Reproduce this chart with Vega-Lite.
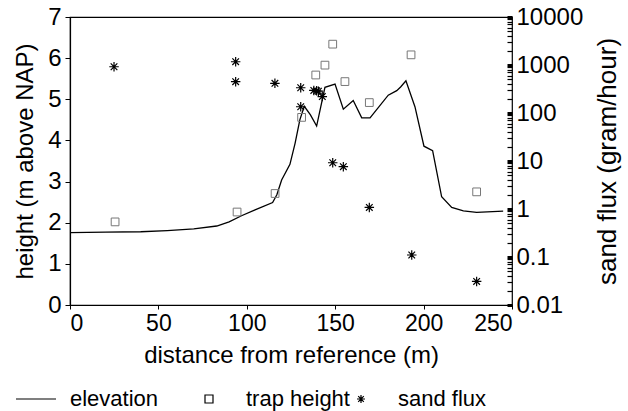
{
  "$schema": "https://vega.github.io/schema/vega-lite/v6.json",
  "width": 442,
  "height": 288,
  "autosize": "none",
  "padding": {"left": 70, "top": 17, "right": 116, "bottom": 106},
  "background": "white",
  "config": {
    "font": "Liberation Sans",
    "view": {"stroke": "black", "strokeWidth": 1.2},
    "axis": {
      "domainColor": "black", "domainWidth": 1.2, "tickColor": "black", "labelColor": "black", "titleColor": "black",
      "grid": false, "labelFontSize": 23, "titleFontSize": 24, "titleFontWeight": "normal",
      "labelFont": "Liberation Sans", "titleFont": "Liberation Sans"
    }
  },
  "datasets": {
    "elevation": [
      {"d": 0, "h": 1.76}, {"d": 20, "h": 1.77}, {"d": 40, "h": 1.78}, {"d": 55, "h": 1.81},
      {"d": 70, "h": 1.85}, {"d": 83, "h": 1.92}, {"d": 90, "h": 2.02}, {"d": 97, "h": 2.17},
      {"d": 105, "h": 2.32}, {"d": 114.6, "h": 2.49}, {"d": 117, "h": 2.68}, {"d": 119.7, "h": 3.04},
      {"d": 124.4, "h": 3.42}, {"d": 127.3, "h": 3.93}, {"d": 130, "h": 4.5}, {"d": 132.5, "h": 4.83},
      {"d": 136, "h": 4.62}, {"d": 139.5, "h": 4.35}, {"d": 144.2, "h": 5.29}, {"d": 149.9, "h": 5.37},
      {"d": 154.6, "h": 4.76}, {"d": 160.2, "h": 4.97}, {"d": 165, "h": 4.55}, {"d": 169.7, "h": 4.55},
      {"d": 180, "h": 5.1}, {"d": 184.8, "h": 5.21}, {"d": 187, "h": 5.3}, {"d": 190, "h": 5.45},
      {"d": 195.1, "h": 4.82}, {"d": 200.2, "h": 3.86}, {"d": 205.1, "h": 3.75}, {"d": 210.2, "h": 2.63},
      {"d": 215.9, "h": 2.37}, {"d": 222.5, "h": 2.29}, {"d": 230, "h": 2.25}, {"d": 245, "h": 2.28}
    ],
    "traps": [
      {"d": 25.5, "h": 2.02, "series": "trap height"}, {"d": 94.5, "h": 2.26, "series": "trap height"},
      {"d": 116, "h": 2.71, "series": "trap height"}, {"d": 131, "h": 4.56, "series": "trap height"},
      {"d": 139, "h": 5.59, "series": "trap height"}, {"d": 144.2, "h": 5.83, "series": "trap height"},
      {"d": 148.6, "h": 6.34, "series": "trap height"}, {"d": 155.5, "h": 5.43, "series": "trap height"},
      {"d": 169.3, "h": 4.92, "series": "trap height"}, {"d": 192.9, "h": 6.08, "series": "trap height"},
      {"d": 230, "h": 2.75, "series": "trap height"}
    ],
    "flux": [
      {"d": 24.9, "f": 920, "series": "sand flux"}, {"d": 93.7, "f": 1170, "series": "sand flux"},
      {"d": 93.7, "f": 450, "series": "sand flux"}, {"d": 115.9, "f": 415, "series": "sand flux"},
      {"d": 130.5, "f": 336, "series": "sand flux"}, {"d": 130.5, "f": 135, "series": "sand flux"},
      {"d": 137.9, "f": 295, "series": "sand flux"}, {"d": 139.5, "f": 290, "series": "sand flux"},
      {"d": 140.5, "f": 285, "series": "sand flux"}, {"d": 142.7, "f": 220, "series": "sand flux"},
      {"d": 148.6, "f": 9.2, "series": "sand flux"}, {"d": 154.6, "f": 7.6, "series": "sand flux"},
      {"d": 169.3, "f": 1.08, "series": "sand flux"}, {"d": 193.3, "f": 0.11, "series": "sand flux"},
      {"d": 230, "f": 0.031, "series": "sand flux"}
    ]
  },
  "encoding": {
    "x": {
      "field": "d", "type": "quantitative",
      "scale": {"domain": [0, 250], "nice": false},
      "axis": {"values": [0, 50, 100, 150, 200, 250], "title": "distance from reference (m)", "tickSize": 4, "labelPadding": 3, "titlePadding": 8}
    }
  },
  "layer": [
    {
      "encoding": {
        "y": {
          "field": "h", "type": "quantitative",
          "scale": {"domain": [0, 7], "nice": false},
          "axis": {"values": [0, 1, 2, 3, 4, 5, 6, 7], "title": "height (m above NAP)", "tickSize": 5, "labelPadding": 4, "titlePadding": 10, "labelFontSize": 24}
        }
      },
      "layer": [
        {
          "data": {"name": "elevation"},
          "mark": {"type": "line", "color": "black", "strokeWidth": 1.3}
        },
        {
          "data": {"name": "traps"},
          "mark": {"type": "point", "filled": false, "color": "#777777", "strokeWidth": 1, "size": 60, "opacity": 1},
          "encoding": {
            "shape": {
              "field": "series", "type": "nominal",
              "scale": {"domain": ["elevation", "trap height", "sand flux"], "range": ["M-4.25,0H5.75", "M-19.75,0M-1,-1H1V1H-1Z", "M-1,0L1,0M0,-1L0,1M-0.7,-0.7L0.7,0.7M-0.7,0.7L0.7,-0.7"]},
              "legend": {"title": null, "orient": "none", "legendX": -48, "legendY": 371, "direction": "horizontal", "columns": 3, "symbolSize": 64, "symbolStrokeColor": "black", "symbolFillColor": "transparent", "symbolStrokeWidth": 1.2, "labelFontSize": 22, "labelFont": "Liberation Sans", "labelColor": "black", "labelOffset": 26, "columnPadding": -32, "symbolOpacity": 1}
            }
          }
        }
      ]
    },
    {
      "data": {"name": "flux"},
      "mark": {"type": "point", "filled": false, "color": "black", "strokeWidth": 1.2, "size": 90, "opacity": 1},
      "encoding": {
        "y": {
          "field": "f", "type": "quantitative",
          "scale": {"type": "log", "domain": [0.01, 10000], "nice": false},
          "axis": {
            "orient": "right", "title": "sand flux (gram/hour)", "titleAngle": 270, "titlePadding": 38, "titleFontSize": 26,
            "values": [0.01, 0.02, 0.03, 0.04, 0.05, 0.06, 0.07, 0.08, 0.09, 0.1, 0.2, 0.3, 0.4, 0.5, 0.6, 0.7, 0.8, 0.9, 1, 2, 3, 4, 5, 6, 7, 8, 9, 10, 20, 30, 40, 50, 60, 70, 80, 90, 100, 200, 300, 400, 500, 600, 700, 800, 900, 1000, 2000, 3000, 4000, 5000, 6000, 7000, 8000, 9000, 10000],
            "format": "~g",
            "labelExpr": "indexof(['0.01','0.1','1','10','100','1000','10000'], datum.label) >= 0 ? datum.label : ''",
            "labelFontSize": 24,
            "offset": -5,
            "domain": false,
            "ticks": true,
            "tickSize": 5,
            "tickWidth": {"condition": {"test": "indexof([0.01,0.1,1,10,100,1000,10000], datum.value) >= 0", "value": 3}, "value": 1.2},
            "tickColor": "black",
            "labelPadding": 4,
            "labelOverlap": false,
            "labelBound": false
          }
        },
        "shape": {
          "field": "series", "type": "nominal",
          "scale": {"domain": ["elevation", "trap height", "sand flux"], "range": ["M-4.25,0H5.75", "M-19.75,0M-1,-1H1V1H-1Z", "M-1,0L1,0M0,-1L0,1M-0.7,-0.7L0.7,0.7M-0.7,0.7L0.7,-0.7"]},
          "legend": {"title": null, "orient": "none", "legendX": -48, "legendY": 371, "direction": "horizontal", "columns": 3, "symbolSize": 64, "symbolStrokeColor": "black", "symbolFillColor": "transparent", "symbolStrokeWidth": 1.2, "labelFontSize": 22, "labelFont": "Liberation Sans", "labelColor": "black", "labelOffset": 26, "columnPadding": -32, "symbolOpacity": 1}
        }
      }
    }
  ],
  "resolve": {"scale": {"y": "independent"}}
}
